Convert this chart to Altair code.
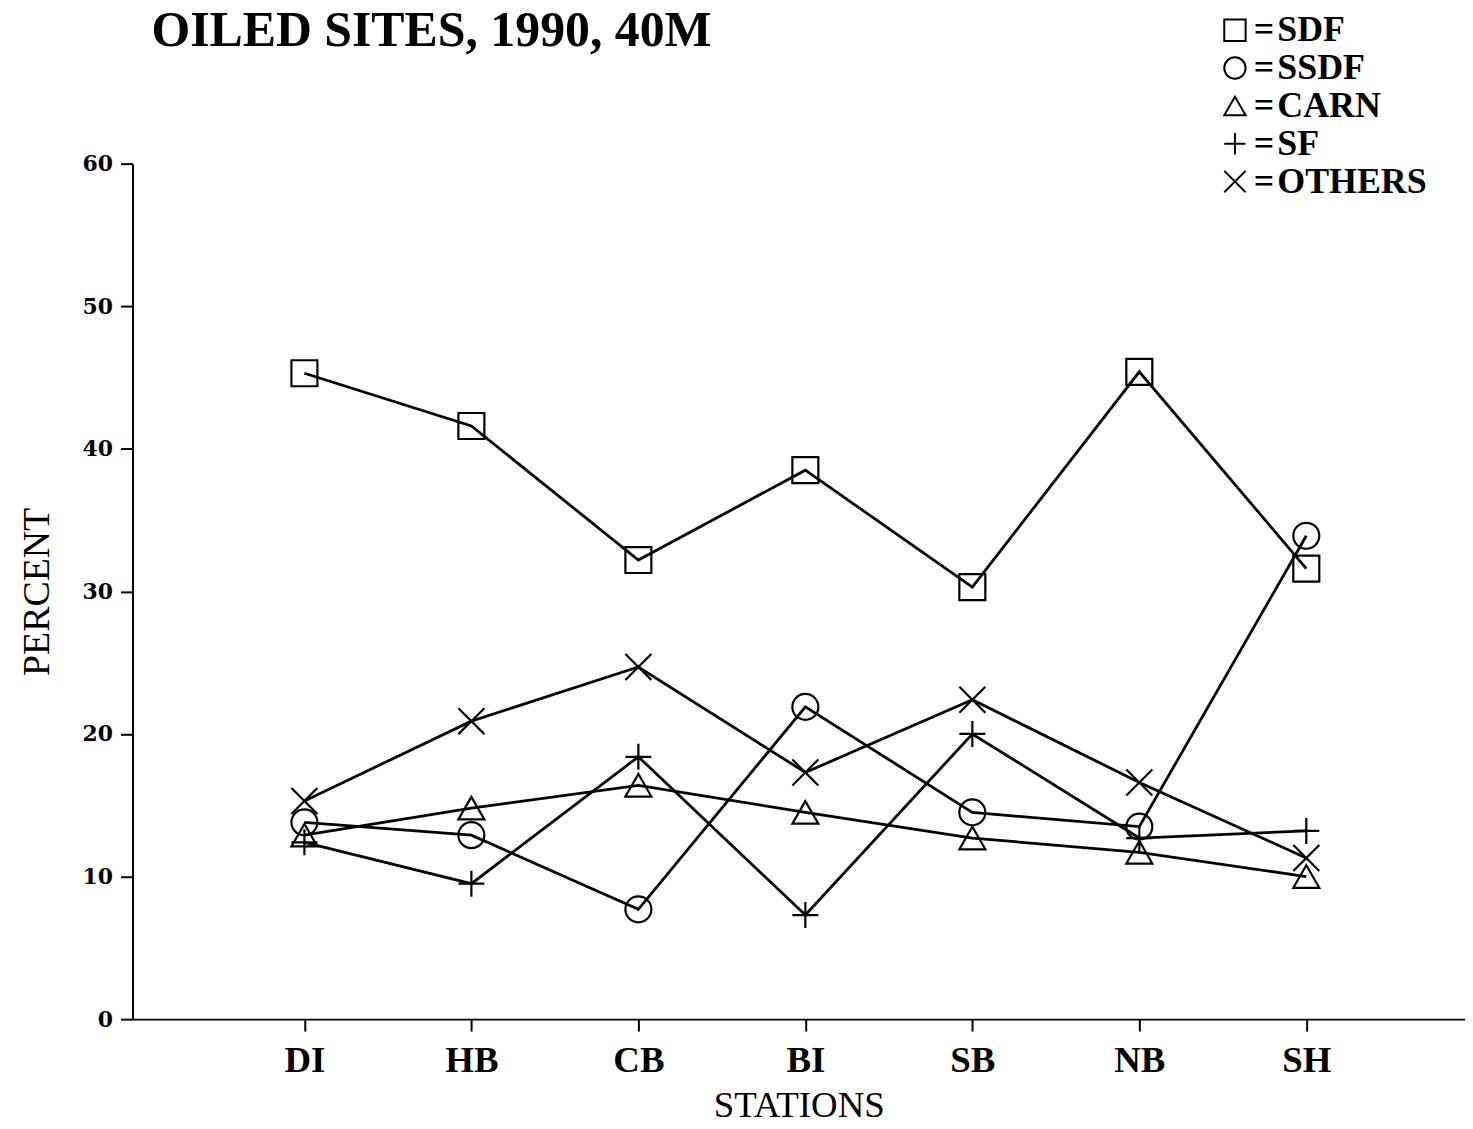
import altair as alt
import pandas as pd

title_text = ["OILED SITES, 1990, 40M"]
stations = ["DI", "HB", "CB", "BI", "SB", "NB", "SH"]
series_names = ["SDF", "SSDF", "CARN", "SF", "OTHERS"]
sdf = [45.3, 41.6, 32.2, 38.5, 30.3, 45.4, 31.6]
ssdf = [13.8, 12.9, 7.7, 21.9, 14.5, 13.5, 33.9]
carn = [12.9, 14.8, 16.4, 14.5, 12.7, 11.7, 10.0]
sf = [12.4, 9.5, 18.4, 7.3, 20.0, 12.7, 13.2]
others = [15.3, 20.9, 24.7, 17.3, 22.4, 16.6, 11.3]

values = {"SDF": sdf, "SSDF": ssdf, "CARN": carn, "SF": sf, "OTHERS": others}
rows = []
for name in series_names:
    for st, v in zip(stations, values[name]):
        rows.append({"station": st, "series": name, "percent": v})
df = pd.DataFrame(rows)

shapes = ["square", "circle", "triangle-up", "M-1,0L1,0M0,-1L0,1", "M-1,-1L1,1M-1,1L1,-1"]
SERIF = "Liberation Serif"

x = alt.X("station:O", sort=stations,
          scale=alt.Scale(type="point", padding=0.99, align=0.52),
          axis=alt.Axis(title="STATIONS", labelAngle=0, labelFont=SERIF, labelFontSize=37,
                        labelFontWeight="bold", labelPadding=12, titleFont=SERIF,
                        titleFontSize=37, titleFontWeight="normal", titlePadding=9,
                        grid=False, domainColor="black", domainWidth=2,
                        tickColor="black", tickWidth=2, tickSize=12,
                        labelColor="black", titleColor="black"))
y = alt.Y("percent:Q", scale=alt.Scale(domain=[0, 60], nice=False),
          axis=alt.Axis(title="PERCENT", values=[0, 10, 20, 30, 40, 50, 60],
                        labelFont="DejaVu Serif", labelFontSize=22, labelFontWeight="bold",
                        labelPadding=8, titleFont=SERIF, titleFontSize=38,
                        titleFontWeight="normal", titlePadding=26,
                        grid=False, domainColor="black", domainWidth=2,
                        tickColor="black", tickWidth=2, tickSize=12,
                        labelColor="black", titleColor="black"))

lines = alt.Chart(df).mark_line(color="black", strokeWidth=2.8).encode(
    x=x, y=y, detail="series:N")

points = alt.Chart(df).mark_point(filled=False, color="black", strokeWidth=2.2,
                                  size=680, opacity=1).encode(
    x=x, y=y,
    shape=alt.Shape("series:N", sort=series_names,
                    scale=alt.Scale(domain=series_names, range=shapes),
                    legend=alt.Legend(title=None, orient="none", legendX=1089, legendY=-152,
                                      labelExpr="'=\u200a' + datum.label",
                                      labelFont=SERIF, labelFontSize=36,
                                      labelFontWeight="bold", labelColor="black",
                                      labelOffset=1, rowPadding=2, labelLimit=400,
                                      symbolSize=460, symbolStrokeColor="black",
                                      symbolFillColor="transparent",
                                      symbolStrokeWidth=2, symbolOpacity=1)))

title = alt.Chart(pd.DataFrame({"t": title_text})).mark_text(
    font=SERIF, fontSize=50, fontWeight="bold", color="black",
    align="left", baseline="alphabetic").encode(
    text="t:N", x=alt.value(19), y=alt.value(-118))

chart = alt.layer(lines, points, title).properties(
    width=1338, height=859,
    background="white",
    autosize=alt.AutoSizeParams(type="none"),
    padding={"left": 125, "top": 154, "right": 0, "bottom": 100},
).configure_view(stroke=None)

chart.save("out.html", embed_options={"renderer": "svg", "actions": False})
